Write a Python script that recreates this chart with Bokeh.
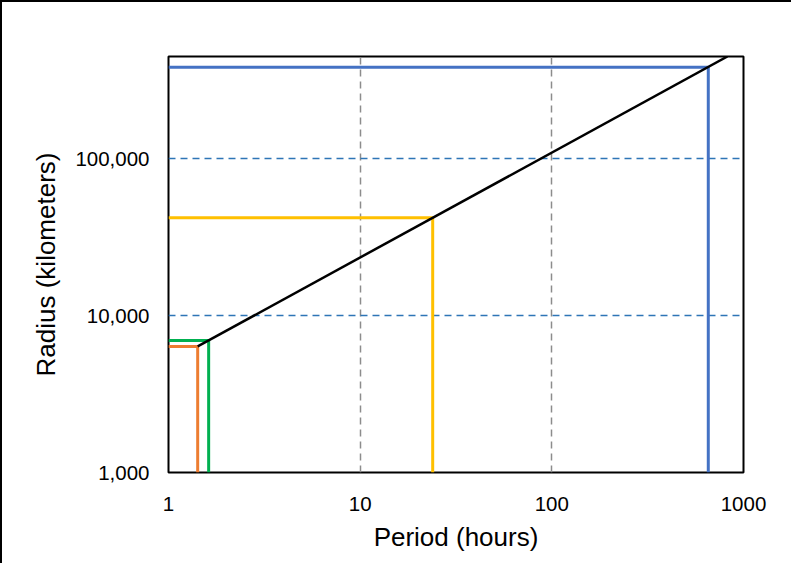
from bokeh.plotting import figure
from bokeh.models import FixedTicker, Range1d
from bokeh.embed import file_html
from bokeh.resources import INLINE

# Data
names = ["Earth surface", "Low orbit", "Geosynchronous", "Moon"]
periods_h = [1.42, 1.62, 23.9, 655.0]
radii_km = [6371, 6950, 42164, 384400]
colors = ["#ED7D31", "#00B050", "#FFC000", "#4472C4"]

kepler_period_h = [1.42, 824.0]
kepler_radius_km = [6371, 450000]

x_ticks = [1, 10, 100, 1000]
x_tick_labels = ["1", "10", "100", "1000"]
y_ticks = [1000, 10000, 100000]
y_tick_labels = ["1,000", "10,000", "100,000"]

x_min, x_max = 1, 1000
y_min, y_max = 1000, 450000

p = figure(width=791, height=563, x_axis_type="log", y_axis_type="log",
           x_range=Range1d(x_min, x_max), y_range=Range1d(y_min, y_max),
           output_backend="svg", toolbar_location=None,
           min_border_left=166, min_border_right=50, min_border_top=54, min_border_bottom=93,
           styles={"border-left": "2px solid black", "border-top": "2px solid black"})

p.background_fill_color = "white"
p.border_fill_color = "white"
p.outline_line_color = "black"
p.outline_line_width = 2

# grids
p.xgrid.ticker = FixedTicker(ticks=[10, 100])
p.xgrid.grid_line_color = "#8C8C8C"
p.xgrid.grid_line_dash = "7 5"
p.xgrid.grid_line_width = 1.5
p.ygrid.ticker = FixedTicker(ticks=[10000, 100000])
p.ygrid.grid_line_color = "#2E75B6"
p.ygrid.grid_line_dash = "7 5"
p.ygrid.grid_line_width = 1.5
p.xgrid.minor_grid_line_color = None
p.ygrid.minor_grid_line_color = None

# axes
for ax, ticks, labels in ((p.xaxis[0], x_ticks, x_tick_labels), (p.yaxis[0], y_ticks, y_tick_labels)):
    ax.ticker = FixedTicker(ticks=ticks)
    ax.major_label_overrides = {t: l for t, l in zip(ticks, labels)}
    ax.axis_line_color = None
    ax.major_tick_line_color = None
    ax.minor_tick_line_color = None
    ax.major_label_text_font = "Liberation Sans"
    ax.major_label_text_font_size = "20.5px"
    ax.major_label_text_color = "black"
    ax.axis_label_text_font = "Liberation Sans"
    ax.axis_label_text_font_size = "26px"
    ax.axis_label_text_font_style = "normal"
    ax.axis_label_text_color = "black"

p.xaxis.axis_label = "Period (hours)"
p.yaxis.axis_label = "Radius (kilometers)"
p.xaxis.major_label_standoff = 18
p.yaxis.major_label_standoff = 13
p.xaxis.axis_label_standoff = 8
p.yaxis.axis_label_standoff = 11

# L-shaped reference lines
xs = [[x_min, t, t] for t in periods_h]
ys = [[r, r, y_min] for r in radii_km]
p.multi_line(xs=xs, ys=ys, line_color=colors, line_width=3)

# Kepler line
p.line(kepler_period_h, kepler_radius_km, line_color="black", line_width=2.5)

open("out.html", "w").write(file_html(p, INLINE))
